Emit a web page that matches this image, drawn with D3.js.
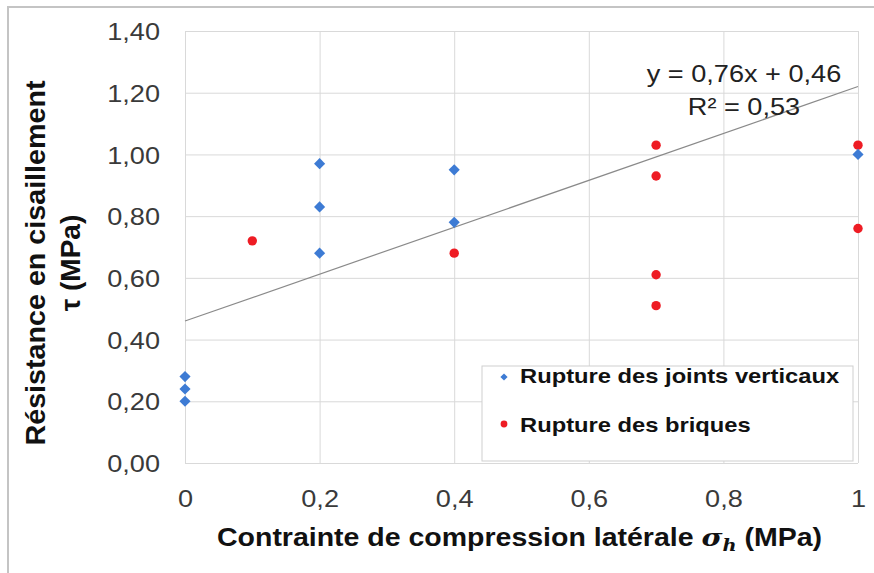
<!DOCTYPE html>
<html>
<head>
<meta charset="utf-8">
<script src="https://cdn.jsdelivr.net/npm/d3@7"></script>
<style>
  html, body { margin: 0; padding: 0; background: #fff; }
  svg { display: block; font-family: "Liberation Sans", Arial, sans-serif; }
</style>
</head>
<body>
<svg id="chart" width="874" height="573"></svg>
<script>
// ---- data ----
const jointsX = [0, 0, 0, 0.2, 0.2, 0.2, 0.4, 0.4, 1];
const jointsY = [0.28, 0.24, 0.20, 0.97, 0.83, 0.68, 0.95, 0.78, 1.00];
const briquesX = [0.1, 0.4, 0.7, 0.7, 0.7, 0.7, 1, 1];
const briquesY = [0.72, 0.68, 1.03, 0.93, 0.61, 0.51, 1.03, 0.76];
const trendSlope = 0.76;
const trendIntercept = 0.46;
const xTicks = [0, 0.2, 0.4, 0.6, 0.8, 1];
const xTickLabels = ["0", "0,2", "0,4", "0,6", "0,8", "1"];
const yTicks = [0, 0.2, 0.4, 0.6, 0.8, 1.0, 1.2, 1.4];
const yTickLabels = ["0,00", "0,20", "0,40", "0,60", "0,80", "1,00", "1,20", "1,40"];
const seriesNames = ["Rupture des joints verticaux", "Rupture des briques"];
const eqLines = ["y = 0,76x + 0,46", "R² = 0,53"];

const blue = "#3d7bd4";
const red = "#ee1c24";
const STRETCH = 1.13;

const svg = d3.select("#chart");
const L = 185, R = 858, T = 31, B = 463;
const x = d3.scaleLinear().domain([0, 1]).range([L, R]);
const y = d3.scaleLinear().domain([0, 1.4]).range([B, T]);

function stretch(sel, k) {
  sel.each(function() {
    const w = this.getComputedTextLength();
    d3.select(this).attr("textLength", w * k).attr("lengthAdjust", "spacingAndGlyphs");
  });
}

// outer frame
svg.append("rect").attr("x", 8).attr("y", 7).attr("width", 900).attr("height", 600)
  .attr("fill", "none").attr("stroke", "#c4c4c4").attr("stroke-width", 2);

// y axis + grid
const gy = svg.append("g").attr("transform", `translate(${L},0)`)
  .call(d3.axisLeft(y).tickValues(yTicks).tickFormat((d, i) => yTickLabels[i])
    .tickSize(-(R - L)).tickPadding(25));
gy.select(".domain").remove();
gy.selectAll(".tick line").attr("stroke", "#d9d9d9").attr("stroke-width", 1);
gy.selectAll(".tick text").attr("font-size", 24).attr("fill", "#3a3a3a")
  .attr("font-family", "Liberation Sans, Arial, sans-serif").attr("dy", "0.36em");
stretch(gy.selectAll(".tick text"), STRETCH);

// x axis + grid
const gx = svg.append("g").attr("transform", `translate(0,${B})`)
  .call(d3.axisBottom(x).tickValues(xTicks).tickFormat((d, i) => xTickLabels[i])
    .tickSize(-(B - T)).tickPadding(27));
gx.select(".domain").remove();
gx.selectAll(".tick line").attr("stroke", "#d9d9d9").attr("stroke-width", 1);
gx.selectAll(".tick text").attr("font-size", 24).attr("fill", "#3a3a3a")
  .attr("font-family", "Liberation Sans, Arial, sans-serif");
stretch(gx.selectAll(".tick text"), STRETCH);

// trend line
svg.append("line")
  .attr("x1", x(0)).attr("y1", y(trendIntercept))
  .attr("x2", x(1)).attr("y2", y(trendSlope * 1 + trendIntercept))
  .attr("stroke", "#8a8a8a").attr("stroke-width", 1.2);

// equation
const eq = svg.append("g");
eq.selectAll("text").data(eqLines).join("text")
  .attr("x", 744).attr("y", (d, i) => 82 + i * 33)
  .attr("text-anchor", "middle").attr("font-size", 24).attr("fill", "#222")
  .text(d => d);
stretch(eq.selectAll("text"), STRETCH);

// points
const diamond = d3.symbol().type(d3.symbolSquare).size(62);
const jointsData = jointsX.map((v, i) => [v, jointsY[i]]);
const briquesData = briquesX.map((v, i) => [v, briquesY[i]]);

svg.append("g").selectAll("circle").data(briquesData).join("circle")
  .attr("cx", d => x(d[0])).attr("cy", d => y(d[1])).attr("r", 4.7).attr("fill", red);
svg.append("g").selectAll("path").data(jointsData).join("path")
  .attr("d", diamond)
  .attr("transform", d => `translate(${x(d[0])},${y(d[1])}) rotate(45)`)
  .attr("fill", blue);

// legend
const lg = svg.append("g");
lg.append("rect").attr("x", 482).attr("y", 366).attr("width", 371).attr("height", 95)
  .attr("fill", "#fff").attr("stroke", "#cfcfcf").attr("stroke-width", 1);
lg.append("path").attr("d", d3.symbol().type(d3.symbolSquare).size(26))
  .attr("transform", "translate(504,377) rotate(45)").attr("fill", blue);
lg.append("circle").attr("cx", 504).attr("cy", 424).attr("r", 3.4).attr("fill", red);
const lt = lg.selectAll("text.lt").data(seriesNames).join("text").attr("class", "lt")
  .attr("x", 520).attr("y", (d, i) => 383 + i * 49)
  .attr("font-size", 21).attr("font-weight", "bold").attr("fill", "#111")
  .text(d => d);
stretch(lt, STRETCH);

// x title
const xt = svg.append("text").attr("x", 519.5).attr("y", 546).attr("text-anchor", "middle")
  .attr("font-size", 25).attr("font-weight", "bold").attr("fill", "#111");
xt.append("tspan").text("Contrainte de compression latérale ");
xt.append("tspan").attr("font-style", "italic").attr("font-family", "DejaVu Serif, serif").attr("font-weight", "bold").text("σ");
xt.append("tspan").attr("font-style", "italic").attr("font-family", "DejaVu Serif, serif").attr("font-weight", "bold")
  .attr("font-size", 17).attr("dy", 5).text("h");
xt.append("tspan").attr("dy", -5).text(" (MPa)");
xt.attr("textLength", 605).attr("lengthAdjust", "spacingAndGlyphs");

// y title
const yt = svg.append("g").attr("transform", "translate(0,263) rotate(-90)");
yt.append("text").attr("x", 0).attr("y", 45).attr("text-anchor", "middle")
  .attr("font-size", 28).attr("font-weight", "bold").attr("fill", "#111")
  .attr("textLength", 365).attr("lengthAdjust", "spacingAndGlyphs")
  .text("Résistance en cisaillement");
yt.append("text").attr("x", 0).attr("y", 80).attr("text-anchor", "middle")
  .attr("font-size", 28).attr("font-weight", "bold").attr("fill", "#111")
  .text("τ (MPa)");
</script>
</body>
</html>
